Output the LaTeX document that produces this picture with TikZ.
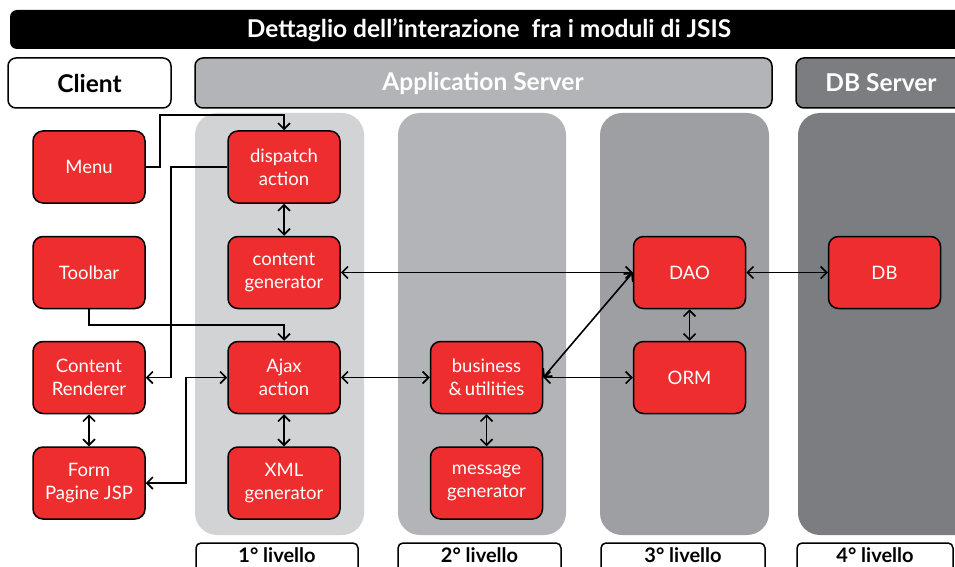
\documentclass[tikz,border=0pt]{standalone}
\usepackage{fontspec}
\setmainfont{Lato}
\usetikzlibrary{arrows.meta}
\definecolor{boxred}{HTML}{EE2E2E}
\definecolor{colA}{HTML}{D1D3D4}
\definecolor{colB}{HTML}{B2B4B7}
\definecolor{colC}{HTML}{9D9FA3}
\definecolor{colD}{HTML}{7B7D81}
\begin{document}
\begin{tikzpicture}[x=1pt,y=-1pt,
  redbox/.style={draw=black, line width=1.5pt, fill=boxred, rounded corners=10pt,
    minimum width=112pt, minimum height=72pt, text=white, align=center, inner sep=0pt,
    font=\fontsize{18.5}{23}\selectfont},
  column/.style={rounded corners=22pt},
  hdr/.style={draw=black, line width=1.5pt, rounded corners=8pt},
  hdrtext/.style={font=\bfseries\fontsize{24.5}{28}\selectfont},
  lvltext/.style={font=\bfseries\fontsize{20}{24}\selectfont, inner sep=1pt},
  tip/.tip={Straight Barb[length=6pt,width=12pt]},
  both/.style={line width=1.6pt, tip-tip},
  one/.style={line width=1.6pt, -tip}]
\useasboundingbox (0,0) rectangle (955,567);
\clip (0,0) rectangle (955,567);
% title
\fill[black, rounded corners=7pt] (10,10) rectangle (1010,49);
\node[text=white, hdrtext] (title) at (489,30) {Dettaglio dell’interazione\ \ fra i moduli di JSIS};
% headers
\draw[hdr, fill=white] (8,58) rectangle (171,108);
\node[hdrtext] (client) at (89.5,83) {Client};
\draw[hdr, fill=colB] (195,58) rectangle (772,108);
\node[hdrtext, text=white] (appsrv) at (483,83) {Application Server};
\draw[hdr, fill=colD] (796,58) rectangle (1010,108);
\node[hdrtext, text=white] (dbsrv) at (881,83) {DB Server};
% columns
\fill[colA, column] (195,113) rectangle (364,535);
\fill[colB, column] (398,113) rectangle (566,535);
\fill[colC, column] (600,113) rectangle (769,535);
\fill[colD, column] (798,113) rectangle (1010,535);
% level labels
\draw[hdr, fill=white, rounded corners=5pt] (196,543) rectangle (358,580);
\node[lvltext] (l1) at (277,555) {1° livello};
\draw[hdr, fill=white, rounded corners=5pt] (398,543) rectangle (561,580);
\node[lvltext] (l2) at (479.5,555) {2° livello};
\draw[hdr, fill=white, rounded corners=5pt] (601,543) rectangle (765,580);
\node[lvltext] (l3) at (683,555) {3° livello};
\draw[hdr, fill=white, rounded corners=5pt] (797,543) rectangle (953,580);
\node[lvltext] (l4) at (875,555) {4° livello};
% boxes
\node[redbox] (menu) at (89,167) {Menu};
\node[redbox] (toolbar) at (89,272.5) {Toolbar};
\node[redbox] (crend) at (89,377.5) {Content\\Renderer};
\node[redbox] (form) at (89,483) {Form\\Pagine JSP};
\node[redbox] (dispatch) at (284,167) {dispatch\\action};
\node[redbox] (cgen) at (284,272.5) {content\\generator};
\node[redbox] (ajax) at (284,377.5) {Ajax\\action};
\node[redbox] (xml) at (284,483) {XML\\generator};
\node[redbox] (biz) at (486.5,377.5) {business\\\&\,utilities};
\node[redbox] (msg) at (486.5,483) {message\\generator};
\node[redbox] (dao) at (689.5,272.5) {DAO};
\node[redbox] (orm) at (689.5,377.5) {ORM};
\node[redbox] (db) at (884.5,272.5) {DB};
% connectors
\draw[one] (menu.east) -| (160,115) -| (dispatch.north);
\draw[one] (dispatch.west) -| (171,377.5) -- (crend.east);
\draw[one] (toolbar.south) |- (284,325) -- (ajax.north);
\draw[both] (form.east) -| (186,377.5) -- (ajax.west);
\draw[both] (dispatch) -- (cgen);
\draw[both] (crend) -- (form);
\draw[both] (ajax) -- (xml);
\draw[both] (cgen) -- (dao);
\draw[both] (ajax) -- (biz);
\draw[both] (biz) -- (orm);
\draw[both] (biz.east) -- (dao.west);
\draw[both] (biz) -- (msg);
\draw[both] (dao) -- (orm);
\draw[both] (dao) -- (db);
\end{tikzpicture}
\end{document}
